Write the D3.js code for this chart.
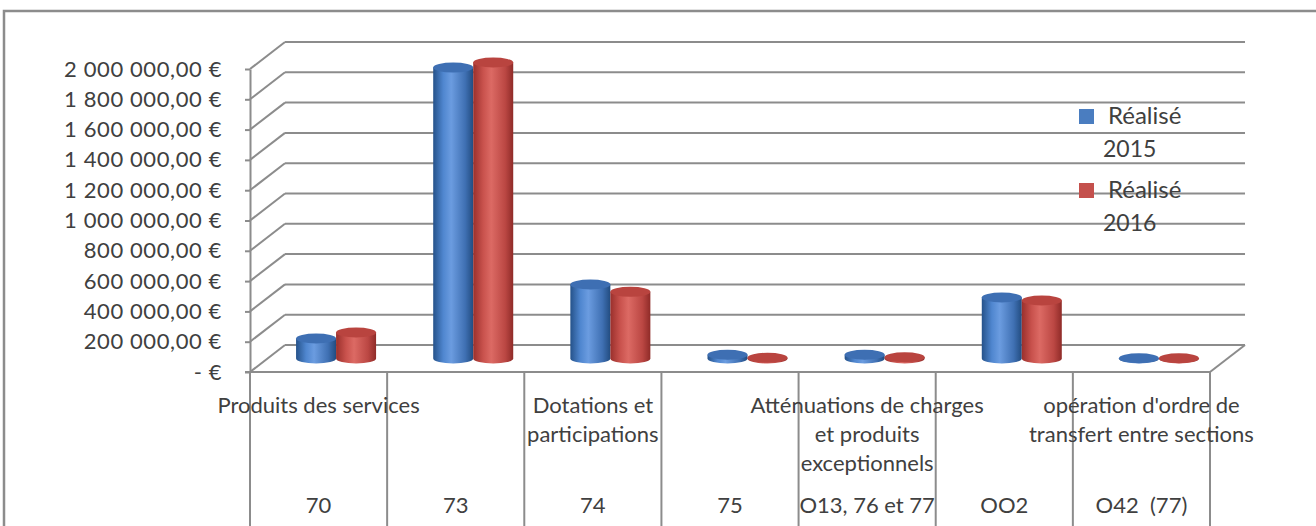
<!DOCTYPE html>
<html>
<head>
<meta charset="utf-8">
<script src="https://cdn.jsdelivr.net/npm/d3@7"></script>
<style>
	body { margin: 0; background: #fff; }
	text { font-family: Lato, "Open Sans", sans-serif; fill: #404040; white-space: pre; }
</style>
</head>
<body>
<div id="chart"></div>
<script>
// data
var codes = ["70", "73", "74", "75", "O13, 76 et 77", "OO2", "O42  (77)"];
var groupLabels = [
	["Produits des services"],
	[],
	["Dotations et", "participations"],
	[],
	["Atténuations de charges", "et produits", "exceptionnels"],
	[],
	["opération d'ordre de", "transfert entre sections"]
];
var seriesNames = ["Réalisé 2015", "Réalisé 2016"];
var realise2015 = [132000, 1920000, 488000, 25000, 25000, 403000, 1500];
var realise2016 = [172000, 1954000, 440000, 5000, 8000, 383000, 2000];
var yTicks = [0, 200000, 400000, 600000, 800000, 1000000, 1200000, 1400000, 1600000, 1800000, 2000000];

var W = 1316, H = 526;
var depth = {dx: 35, dy: -27};      // back wall offset
var barDepth = {dx: 17.5, dy: -13.5}; // bars sit half way in
var colors = ["#4a7dc0", "#c4504c"];

var fr = d3.formatLocale({decimal: ",", thousands: "\u00a0", grouping: [3], currency: ["", " €"]});
var fmt = fr.format(",.2f");

var svg = d3.select("#chart").append("svg")
	.attr("width", W)
	.attr("height", H);

// gradients for the cylinders
var defs = svg.append("defs");
var grads = [
	["#25528a", "#4f86cf", "#6b9ce0", "#3f70b3", "#224c80"],
	["#9a302c", "#c9524d", "#dc6a64", "#bb4743", "#8f2b28"]
];
grads.forEach(function(stops, i) {
	var g = defs.append("linearGradient").attr("id", "cyl" + i)
		.attr("x1", "0").attr("x2", "1").attr("y1", "0").attr("y2", "0");
	[0, 0.25, 0.45, 0.8, 1].forEach(function(o, j) {
		g.append("stop").attr("offset", o).attr("stop-color", stops[j]);
	});
});

// outer border
svg.append("path")
	.attr("d", "M4," + H + "V11H" + W)
	.attr("fill", "none")
	.attr("stroke", "#8c8c8c")
	.attr("stroke-width", 2.5);

// scales
var x0 = d3.scaleBand().domain(codes).range([250, 1210]);
var x1 = d3.scaleBand().domain(seriesNames).range([0, x0.bandwidth()]).paddingOuter(0.714);
var y = d3.scaleLinear().domain([0, 2000000]).range([372, 69]);

var grid = svg.append("g")
	.attr("stroke", "#8c8c8c")
	.attr("stroke-width", 2)
	.attr("fill", "none");

// back wall gridlines + left diagonals
grid.selectAll(".back").data(yTicks).enter().append("line")
	.attr("x1", 250 + depth.dx).attr("x2", 1210 + depth.dx)
	.attr("y1", function(d) { return y(d) + depth.dy; })
	.attr("y2", function(d) { return y(d) + depth.dy; });
grid.selectAll(".diag").data(yTicks).enter().append("line")
	.attr("x1", 250).attr("x2", 250 + depth.dx)
	.attr("y1", function(d) { return y(d); })
	.attr("y2", function(d) { return y(d) + depth.dy; });
// floor right edge
grid.append("line")
	.attr("x1", 1210).attr("y1", y(0))
	.attr("x2", 1210 + depth.dx).attr("y2", y(0) + depth.dy);

// category separators, running down through both label rows
var bounds = codes.map(function(c) { return x0(c); }).concat([x0.range()[1]]);
grid.selectAll(".sep").data(bounds).enter().append("line")
	.attr("x1", function(d) { return d; }).attr("x2", function(d) { return d; })
	.attr("y1", y(0)).attr("y2", H);

// cylinders
var bars = [];
codes.forEach(function(c, i) {
	[realise2015[i], realise2016[i]].forEach(function(v, s) {
		bars.push({code: c, s: s, v: v});
	});
});

var rx = x1.bandwidth() / 2, ry = 5;
var cyl = svg.append("g").selectAll("g").data(bars).enter().append("g");
cyl.append("path")
	.attr("fill", function(d) { return "url(#cyl" + d.s + ")"; })
	.attr("d", function(d) {
		var cx = x0(d.code) + x1(seriesNames[d.s]) + rx + barDepth.dx;
		var yb = y(0) + barDepth.dy, yt = y(d.v) + barDepth.dy;
		return "M" + (cx - rx) + "," + yt + "V" + yb +
			"A" + rx + "," + ry + " 0 0 0 " + (cx + rx) + "," + yb +
			"V" + yt + "Z";
	});
cyl.append("ellipse")
	.attr("cx", function(d) { return x0(d.code) + x1(seriesNames[d.s]) + rx + barDepth.dx; })
	.attr("cy", function(d) { return y(d.v) + barDepth.dy; })
	.attr("rx", rx).attr("ry", ry)
	.attr("fill", function(d) { return d.s ? "#b9443f" : "#3e6fb3"; });

// y axis on the front plane
var yAxis = svg.append("g")
	.attr("transform", "translate(250,0)")
	.call(d3.axisLeft(y).tickValues(yTicks).tickSize(5).tickSizeOuter(0).tickPadding(23)
		.tickFormat(function(d) { return d === 0 ? "-\u00a0€" : fmt(d) + " €"; }));
yAxis.selectAll("path, line").attr("stroke", "#8c8c8c").attr("stroke-width", 2);
yAxis.selectAll("text").attr("font-size", 22).attr("letter-spacing", 0.6)
	.attr("font-family", null).style("fill", "#404040");

// front floor edge
svg.append("line")
	.attr("x1", 245).attr("x2", 1210)
	.attr("y1", y(0)).attr("y2", y(0))
	.attr("stroke", "#8c8c8c").attr("stroke-width", 2);

// category codes (lower row)
var xAxis = svg.append("g")
	.attr("transform", "translate(0," + 497 + ")")
	.call(d3.axisBottom(x0).tickSize(0).tickPadding(0));
xAxis.select(".domain").remove();
xAxis.selectAll("text").attr("font-size", 22).attr("font-family", null).style("fill", "#404040");

// group labels (upper row)
var gl = svg.append("g").selectAll("text").data(groupLabels).enter().append("text")
	.attr("text-anchor", "middle")
	.attr("font-size", 22)
	.attr("x", function(d, i) { return x0(codes[i]) + x0.bandwidth() / 2; })
	.attr("y", 413);
gl.selectAll("tspan").data(function(d) { return d; }).enter().append("tspan")
	.attr("x", function() { return this.parentNode.getAttribute("x"); })
	.attr("dy", function(d, i) { return i ? 29 : 0; })
	.text(function(d) { return d; });

// legend
var legend = svg.append("g").selectAll("g").data(seriesNames).enter().append("g")
	.attr("transform", function(d, i) { return "translate(1079," + (109 + i * 74) + ")"; });
legend.append("rect")
	.attr("width", 15).attr("height", 15)
	.attr("fill", function(d, i) { return colors[i]; });
legend.append("text")
	.attr("font-size", 24)
	.attr("x", 29).attr("y", 15)
	.text(function(d) { return d.split(" ")[0]; });
legend.append("text")
	.attr("font-size", 23)
	.attr("x", 24).attr("y", 48)
	.text(function(d) { return d.split(" ")[1]; });
</script>
</body>
</html>
